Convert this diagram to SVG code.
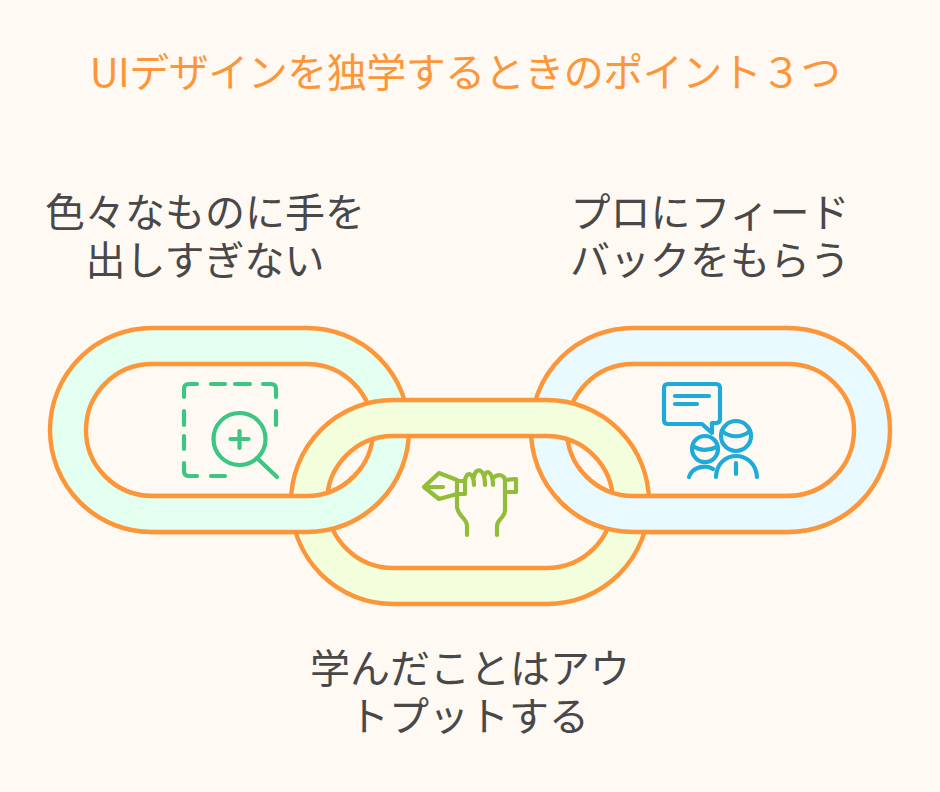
<svg xmlns="http://www.w3.org/2000/svg" width="940" height="792" viewBox="0 0 940 792">
<style>
text{font-family:"Noto Sans CJK JP","Noto Sans",sans-serif;text-anchor:middle}
.t{font-size:40px;fill:#FD9639;letter-spacing:-.5px}
.l{font-size:40px;fill:#484848}
.ring{fill-rule:evenodd;stroke:#FD9639;stroke-width:4.4;stroke-linejoin:round}
.ic{fill:none;stroke-width:4.2;stroke-linecap:round;stroke-linejoin:round}
</style>
<defs>
<path id="rL" class="ring" fill="#E3FFF0" d="M152 328H307A102 102 0 0 1 307 532H152A102 102 0 0 1 152 328ZM152 364A66 66 0 0 0 152 496H307A66 66 0 0 0 307 364Z"/>
<path id="rR" class="ring" fill="#E8F9FF" d="M633 328H788A102 102 0 0 1 788 532H633A102 102 0 0 1 633 328ZM633 364A66 66 0 0 0 633 496H788A66 66 0 0 0 788 364Z"/>
<clipPath id="low"><rect x="0" y="466" width="940" height="100"/></clipPath>
</defs>
<rect width="940" height="792" fill="#FFF9F3"/>
<text class="t" x="465" y="87">UIデザインを独学するときのポイント３つ</text>
<g id="connectors">
<use href="#rL"/>
<use href="#rR"/>
<path class="ring" fill="#F3FFDC" d="M393 400H547A102 102 0 0 1 547 604H393A102 102 0 0 1 393 400ZM393 436A66 66 0 0 0 393 568H547A66 66 0 0 0 547 436Z"/>
<use href="#rL" clip-path="url(#low)"/>
<use href="#rR" clip-path="url(#low)"/>
</g>
<g id="node-left">
<g class="ic" stroke="#3CC583">
<path d="M184 397V389Q184 384 189 384H197M211 384H225M235 384H250M263 384H271Q276 384 276 389V397M276 411V425M184 411V425M184 436V449M184 463V471Q184 476 189 476H197M211 476H225"/>
<circle cx="239.500" cy="439" r="26"/>
<path d="M239.500 431V448M230.500 439H248.500M257 458L277 477"/>
</g>
<text class="l"><tspan x="205" y="227">色々なものに手を</tspan><tspan x="205" y="275">出しすぎない</tspan></text>
</g>
<g id="node-middle">
<g class="ic" stroke="#92BD39">
<path d="M424 487L439 473L457 480V494L439 499ZM424 487H443M457 481H465V494H457M457 495V506C457 516 467 518 467 526V535M465 482C465 471 474 471 474 485M474 477C475 467 485 467 485 485M485 475C486 470 493 471 493 485M494 477C500 473 505 476 505 481V510C505 518 497 519 497 526V535M505 480L516 479V492H505"/>
</g>
<text class="l"><tspan x="470" y="683">学んだことはアウ</tspan><tspan x="469" y="731">トプットする</tspan></text>
</g>
<g id="node-right">
<g class="ic" stroke="#1EABDA">
<path d="M668 384H716Q720 384 720 388V419Q720 423 716 423H712V433L702 424H668Q664 424 664 420V388Q664 384 668 384Z"/>
<path d="M675 396H709M675 404H697"/>
<circle cx="705" cy="449" r="13"/><path d="M693 446C700 451 708 451 717 447"/>
<circle cx="736" cy="436" r="15"/><path d="M722 431C730 438 742 438 750 431"/>
<path d="M689 477C692 467 706 464 713 469M716 477C717 449 755 449 757 477M736 463V474"/>
</g>
<text class="l"><tspan x="710" y="227">プロにフィード</tspan><tspan x="710" y="275">バックをもらう</tspan></text>
</g>
</svg>
